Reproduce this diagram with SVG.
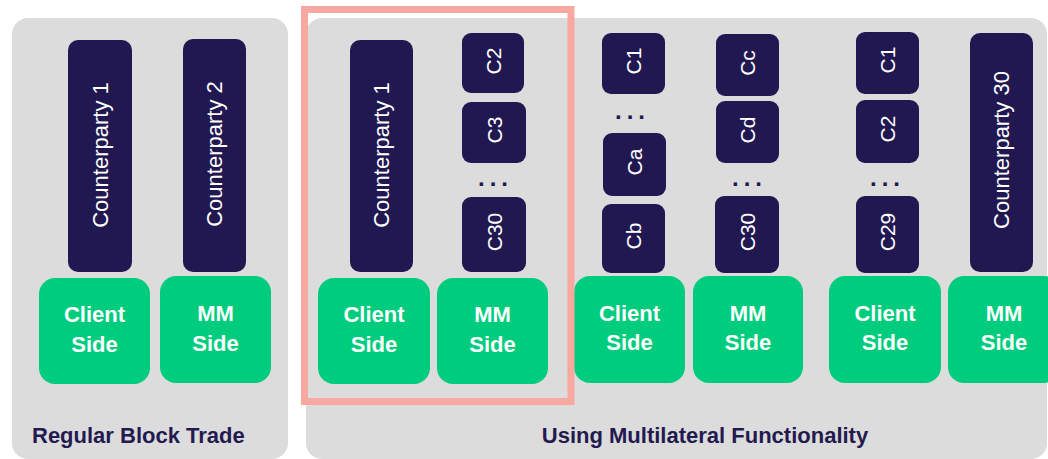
<svg xmlns="http://www.w3.org/2000/svg" width="1048" height="459" viewBox="0 0 1048 459">
<style>
.panel{fill:#dcdcdc}
.cp{fill:#211851}
.side{fill:#00cc7e}
.vt{font-family:"Liberation Sans",Arial,sans-serif;font-size:21px;fill:#ffffff;text-anchor:middle}
.vl{font-size:22px}
.st{font-family:"Liberation Sans",Arial,sans-serif;font-size:22px;font-weight:bold;fill:#ffffff;text-anchor:middle}
.dots{font-family:"Liberation Sans",Arial,sans-serif;font-size:24px;font-weight:bold;fill:#211851;text-anchor:middle;letter-spacing:5px}
.lbl{font-family:"Liberation Sans",Arial,sans-serif;font-size:22px;font-weight:bold;fill:#231a50}
.hl{fill:none;stroke:#f7a8a0;stroke-width:7}
</style>
<rect id="panel-regular" class="panel" x="12" y="18" width="276" height="441" rx="16"/>
<rect id="panel-multilateral" class="panel" x="306" y="18" width="741" height="441" rx="16"/>

<g id="cp1-a"><rect class="cp" x="68" y="40" width="64" height="232" rx="10"/><text class="vt vl" transform="translate(107.5,155) rotate(-90)">Counterparty 1</text></g>
<g id="cp2-a"><rect class="cp" x="183" y="39" width="63" height="233" rx="10"/><text class="vt vl" transform="translate(222,154) rotate(-90)">Counterparty 2</text></g>
<g id="client-a"><rect class="side" x="39" y="278" width="111" height="106" rx="16"/><text class="st" x="94.5" y="322">Client</text><text class="st" x="94.5" y="352">Side</text></g>
<g id="mm-a"><rect class="side" x="160" y="276" width="111" height="107" rx="16"/><text class="st" x="215.5" y="321">MM</text><text class="st" x="215.5" y="351">Side</text></g>

<g id="cp1-b"><rect class="cp" x="350" y="40" width="63" height="232" rx="10"/><text class="vt vl" transform="translate(389,155) rotate(-90)">Counterparty 1</text></g>
<g id="c2-b"><rect class="cp" x="462" y="33" width="62" height="60" rx="9"/><text class="vt" transform="translate(500.5,61) rotate(-90)">C2</text></g>
<g id="c3-b"><rect class="cp" x="462" y="102" width="64" height="61" rx="9"/><text class="vt" transform="translate(501.5,130) rotate(-90)">C3</text></g>
<text id="dots-b" class="dots" x="495.5" y="186">...</text>
<g id="c30-b"><rect class="cp" x="462" y="197" width="64" height="75" rx="9"/><text class="vt" transform="translate(501.5,232) rotate(-90)">C30</text></g>
<g id="client-b"><rect class="side" x="318" y="278" width="112" height="106" rx="16"/><text class="st" x="374" y="322">Client</text><text class="st" x="374" y="352">Side</text></g>
<g id="mm-b"><rect class="side" x="437" y="278" width="111" height="106" rx="16"/><text class="st" x="492.5" y="322">MM</text><text class="st" x="492.5" y="352">Side</text></g>

<g id="c1-c"><rect class="cp" x="602" y="33" width="63" height="61" rx="9"/><text class="vt" transform="translate(641,61) rotate(-90)">C1</text></g>
<text id="dots-c1" class="dots" x="632.5" y="119">...</text>
<g id="ca-c"><rect class="cp" x="603" y="133" width="63" height="63" rx="9"/><text class="vt" transform="translate(642,162) rotate(-90)">Ca</text></g>
<g id="cb-c"><rect class="cp" x="602" y="204" width="63" height="69" rx="9"/><text class="vt" transform="translate(641,236) rotate(-90)">Cb</text></g>
<g id="cc-c"><rect class="cp" x="716" y="34" width="63" height="62" rx="9"/><text class="vt" transform="translate(755,63) rotate(-90)">Cc</text></g>
<g id="cd-c"><rect class="cp" x="716" y="101" width="63" height="62" rx="9"/><text class="vt" transform="translate(755,130) rotate(-90)">Cd</text></g>
<text id="dots-c2" class="dots" x="749.5" y="186">...</text>
<g id="c30-c"><rect class="cp" x="715" y="196" width="64" height="77" rx="9"/><text class="vt" transform="translate(754.5,232) rotate(-90)">C30</text></g>
<g id="client-c"><rect class="side" x="574" y="276" width="111" height="107" rx="16"/><text class="st" x="629.5" y="321">Client</text><text class="st" x="629.5" y="350">Side</text></g>
<g id="mm-c"><rect class="side" x="693" y="276" width="110" height="107" rx="16"/><text class="st" x="748" y="321">MM</text><text class="st" x="748" y="350">Side</text></g>

<g id="c1-d"><rect class="cp" x="856" y="32" width="63" height="62" rx="9"/><text class="vt" transform="translate(895,60) rotate(-90)">C1</text></g>
<g id="c2-d"><rect class="cp" x="856" y="100" width="63" height="63" rx="9"/><text class="vt" transform="translate(895,129) rotate(-90)">C2</text></g>
<text id="dots-d" class="dots" x="887.5" y="186">...</text>
<g id="c29-d"><rect class="cp" x="856" y="196" width="63" height="77" rx="9"/><text class="vt" transform="translate(895,232) rotate(-90)">C29</text></g>
<g id="cp30-d"><rect class="cp" x="970" y="33" width="63" height="239" rx="10"/><text class="vt vl" transform="translate(1009,150) rotate(-90)">Counterparty 30</text></g>
<g id="client-d"><rect class="side" x="829" y="276" width="112" height="107" rx="16"/><text class="st" x="885" y="321">Client</text><text class="st" x="885" y="350">Side</text></g>
<g id="mm-d"><rect class="side" x="948" y="276" width="112" height="107" rx="16"/><text class="st" x="1004" y="321">MM</text><text class="st" x="1004" y="350">Side</text></g>

<text id="label-regular" class="lbl" x="32" y="443">Regular Block Trade</text>
<text id="label-multilateral" class="lbl" x="705" y="443" text-anchor="middle">Using Multilateral Functionality</text>

<g id="connectors"></g>
<rect id="highlight" class="hl" x="304.5" y="9.5" width="266.5" height="392"/>
</svg>
